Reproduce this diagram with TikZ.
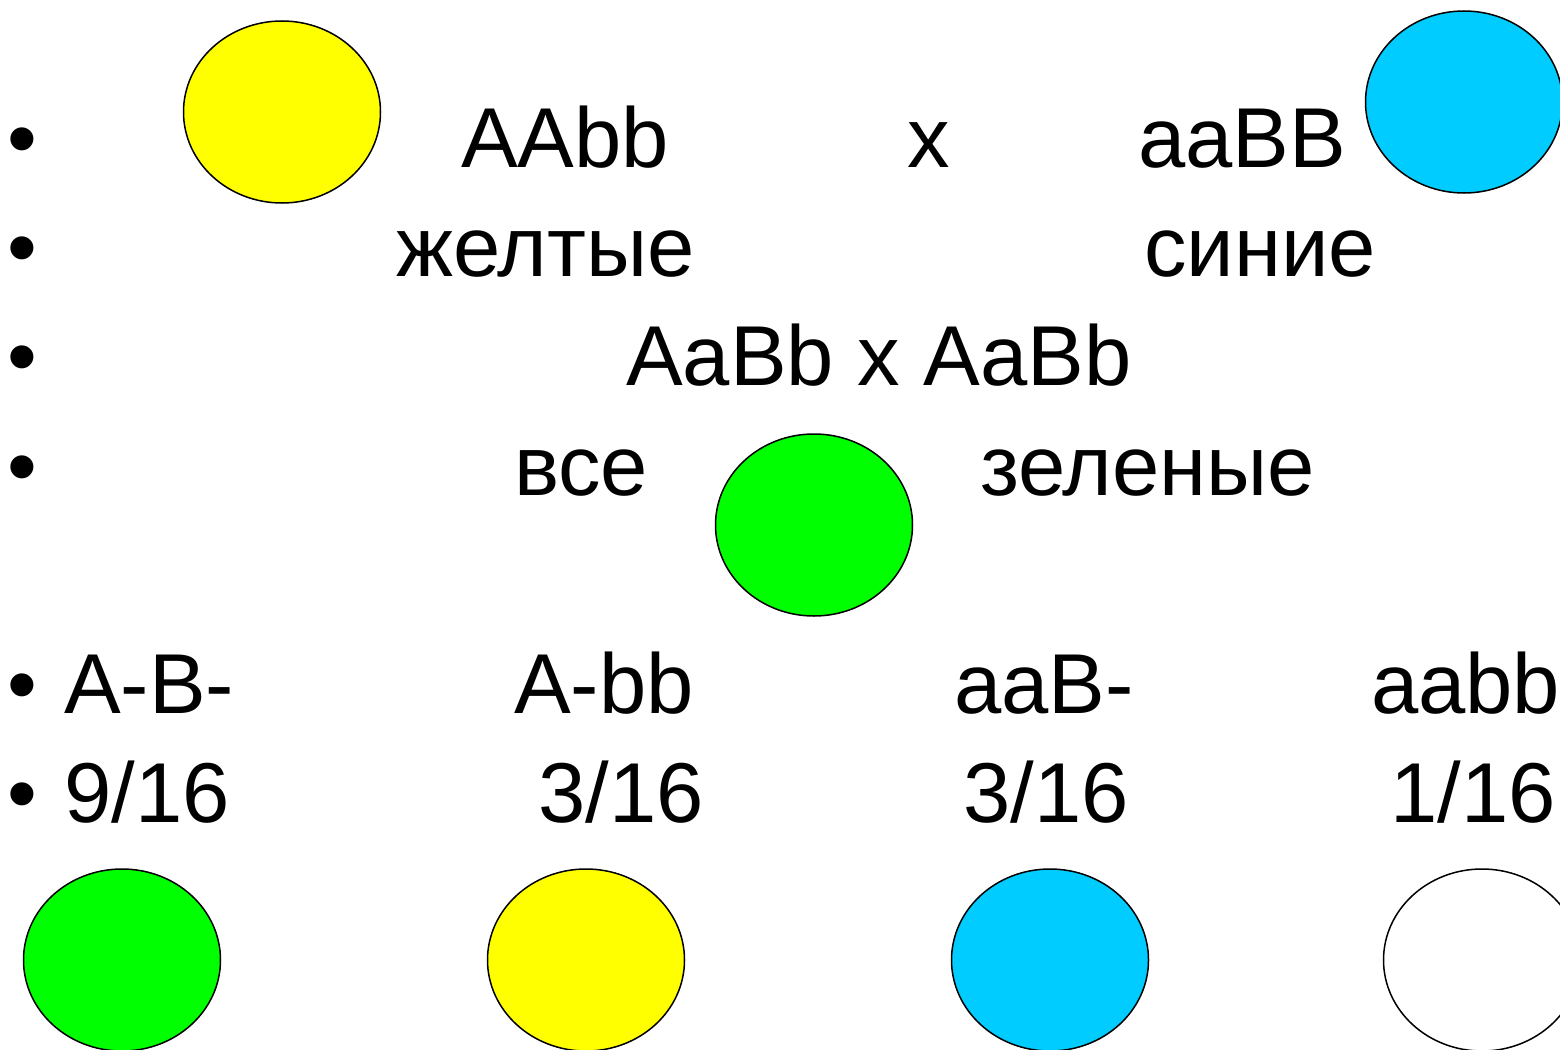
\documentclass[tikz,border=0pt]{standalone}
\usepackage{fontspec}
\setmainfont{Liberation Sans}
\usetikzlibrary{shapes.geometric}
\definecolor{cyellow}{HTML}{FFFF00}
\definecolor{cblue}{HTML}{00CCFF}
\definecolor{cgreen}{HTML}{00FF00}
\tikzset{
  txt/.style={anchor=base west, inner sep=0pt, font=\fontsize{85}{100}\selectfont},
  blob/.style={ellipse, draw=black, line width=1.5pt, minimum width=197pt, minimum height=182pt, inner sep=0pt}
}
\begin{document}
\begin{tikzpicture}[x=1pt,y=-1pt]
\useasboundingbox (0,0) rectangle (1560,1049);
\clip (0,0) rectangle (1560,1049);
\fill[white] (0,0) rectangle (1560,1049);
% bullets
\node[txt] (b1) at (7,167) {•};
\node[txt] (b2) at (7,276) {•};
\node[txt] (b3) at (7,385) {•};
\node[txt] (b4) at (7,495) {•};
\node[txt] (b5) at (7,713) {•};
\node[txt] (b6) at (7,822) {•};
% ellipses
\node[blob, fill=cyellow] (e1) at (282,112) {};
\node[blob, fill=cblue] (e2) at (1464,102) {};
\node[blob, fill=cgreen] (e3) at (814,525) {};
\node[blob, fill=cgreen] (e4) at (122,960) {};
\node[blob, fill=cyellow] (e5) at (586,960) {};
\node[blob, fill=cblue] (e6) at (1050,960) {};
\node[blob, fill=white] (e7) at (1482,960) {};
% row 1
\node[txt] (t1) at (461,167) {AAbb};
\node[txt] (t2) at (907,167) {x};
\node[txt] (t3) at (1138,167) {aaBB};
% row 2
\node[txt] (t4) at (396,276) {желтые};
\node[txt] (t5) at (1144,276) {синие};
% row 3
\node[txt] (t6) at (626,385) {AaBb x AaBb};
% row 4
\node[txt] (t7) at (514,495) {все};
\node[txt] (t8) at (980,495) {зеленые};
% row 5
\node[txt] (t9) at (64,713) {A-B-};
\node[txt] (t10) at (514,713) {A-bb};
\node[txt] (t11) at (954,713) {aaB-};
\node[txt] (t12) at (1371,713) {aabb};
% row 6
\node[txt] (t13) at (64,822) {9/16};
\node[txt] (t14) at (538,822) {3/16};
\node[txt] (t15) at (963,822) {3/16};
\node[txt] (t16) at (1390,822) {1/16};
\end{tikzpicture}
\end{document}
